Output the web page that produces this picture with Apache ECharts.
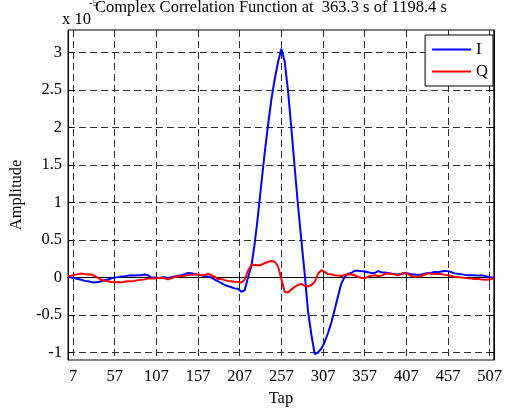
<!DOCTYPE html>
<html>
<head>
<meta charset="utf-8">
<title>Complex Correlation Function</title>
<script src="https://cdn.jsdelivr.net/npm/echarts@6/dist/echarts.min.js"></script>
<style>
  html, body { margin: 0; padding: 0; background: #ffffff; }
  #chart { width: 505px; height: 412px; }
</style>
</head>
<body>
<div id="chart"></div>
<script>
// Tap indices of the sampled correlation (1 .. 512)
const taps = [
  1, 5, 9, 13, 17, 21, 25, 29, 33, 37, 41, 45, 49, 53, 57, 61, 65, 69, 73, 77,
  81, 85, 89, 93, 97, 101, 105, 109, 113, 117, 121, 125, 129, 133, 137, 141, 145, 149, 153, 157,
  161, 165, 169, 173, 177, 181, 185, 189, 193, 197, 201, 205, 209, 213, 217, 221, 225, 229, 233, 237,
  241, 245, 249, 253, 257, 261, 265, 269, 273, 277, 281, 285, 289, 293, 297, 301, 305, 309, 313, 317,
  321, 325, 329, 333, 337, 341, 345, 349, 353, 357, 361, 365, 369, 373, 377, 381, 385, 389, 393, 397,
  401, 405, 409, 413, 417, 421, 425, 429, 433, 437, 441, 445, 449, 453, 457, 461, 465, 469, 473, 477,
  481, 485, 489, 493, 497, 501, 505, 509, 512
];

// In-phase component, in units of 1e-5
const iValues = [
  0.01, 0.0, -0.01, -0.02, -0.03, -0.045, -0.05, -0.06, -0.067, -0.06, -0.05, -0.035, -0.027, -0.01, 0.0, 0.005, 0.015, 0.017, 0.025, 0.03,
  0.028, 0.03, 0.03, 0.04, 0.03, 0.0, 0.0, -0.005, 0.0, 0.005, -0.005, 0.005, 0.015, 0.025, 0.03, 0.045, 0.06, 0.058, 0.045, 0.035,
  0.03, 0.02, 0.01, 0.0, -0.027, -0.05, -0.075, -0.1, -0.115, -0.13, -0.145, -0.15, -0.19, -0.17, 0.0, 0.15, 0.45, 0.83, 1.25, 1.66,
  2.03, 2.37, 2.64, 2.87, 3.05, 2.88, 2.49, 1.99, 1.47, 0.96, 0.5, 0.05, -0.45, -0.76, -1.02, -1.0, -0.95, -0.86, -0.74, -0.6,
  -0.43, -0.25, -0.08, 0.01, 0.05, 0.06, 0.09, 0.09, 0.085, 0.08, 0.07, 0.06, 0.06, 0.085, 0.07, 0.066, 0.06, 0.05, 0.045, 0.04,
  0.05, 0.06, 0.055, 0.045, 0.04, 0.035, 0.04, 0.05, 0.06, 0.065, 0.075, 0.07, 0.08, 0.088, 0.085, 0.07, 0.055, 0.05, 0.045, 0.035,
  0.03, 0.03, 0.03, 0.025, 0.03, 0.02, 0.01, 0.0, 0.0
];

// Quadrature component, in units of 1e-5
const qValues = [
  0.017, 0.025, 0.035, 0.045, 0.053, 0.045, 0.04, 0.04, 0.02, -0.005, -0.03, -0.045, -0.05, -0.06, -0.062, -0.06, -0.065, -0.058, -0.05, -0.05,
  -0.045, -0.035, -0.03, -0.025, -0.015, -0.013, -0.012, -0.005, -0.005, -0.01, -0.025, -0.01, 0.005, 0.017, 0.02, 0.025, 0.03, 0.035, 0.044, 0.04,
  0.035, 0.035, 0.05, 0.03, 0.01, -0.02, -0.02, -0.035, -0.045, -0.05, -0.058, -0.06, -0.067, -0.03, 0.09, 0.165, 0.17, 0.16, 0.17, 0.19,
  0.21, 0.22, 0.21, 0.15, -0.02, -0.19, -0.2, -0.16, -0.125, -0.1, -0.085, -0.11, -0.12, -0.1, -0.06, 0.05, 0.097, 0.075, 0.045, 0.04,
  0.03, 0.025, 0.02, 0.035, 0.044, 0.04, 0.03, 0.01, -0.005, -0.013, 0.01, 0.025, 0.03, 0.02, 0.025, 0.045, 0.053, 0.05, 0.04, 0.03,
  0.045, 0.06, 0.045, 0.02, 0.01, 0.015, 0.02, 0.04, 0.055, 0.05, 0.045, 0.05, 0.045, 0.035, 0.03, 0.02, 0.01, 0.005, 0.0, -0.005,
  -0.01, -0.013, -0.02, -0.02, -0.025, -0.03, -0.027, -0.02, -0.01
];

// Tick positions
const xTicks = [7, 57, 107, 157, 207, 257, 307, 357, 407, 457, 507];
const yTicks = [-1, -0.5, 0, 0.5, 1, 1.5, 2, 2.5, 3];

const titleText = 'Complex Correlation Function at  363.3 s of 1198.4 s';
const FONT = '"Liberation Serif", "Times New Roman", serif';
const FS = 16.5;

const chart = echarts.init(document.getElementById('chart'), null, { renderer: 'canvas' });

const dashed = { show: true, lineStyle: { color: '#2e2e2e', width: 1, type: [7, 4] } };
const tickStyle = { show: true, inside: true, length: 5, lineStyle: { color: '#000', width: 1 } };

const option = {
  animation: false,
  backgroundColor: '#ffffff',
  title: {
    text: titleText,
    left: 95,
    top: -1,
    padding: 0,
    textStyle: { fontFamily: FONT, fontSize: FS, fontWeight: 'normal', color: '#000' }
  },
  grid: {
    left: 63, top: 30, width: 435, height: 330,
    show: true, borderColor: '#000', borderWidth: 1, backgroundColor: '#fff',
    containLabel: false
  },
  legend: {
    orient: 'vertical',
    right: 12, top: 35,
    backgroundColor: '#fff',
    borderColor: '#000', borderWidth: 1,
    padding: [6, 5, 6, 7],
    itemWidth: 39, itemHeight: 2, itemGap: 5,
    icon: 'rect',
    textStyle: { fontFamily: FONT, fontSize: FS, color: '#000' },
    data: ['I', 'Q']
  },
  xAxis: [
    {
      type: 'value', min: 1, max: 512, position: 'bottom',
      name: 'Tap', nameLocation: 'middle', nameGap: 30,
      nameTextStyle: { fontFamily: FONT, fontSize: FS, color: '#000' },
      axisLine: { show: true, lineStyle: { color: '#000' } },
      axisTick: Object.assign({ customValues: xTicks }, tickStyle),
      axisLabel: { customValues: xTicks, fontFamily: FONT, fontSize: FS, color: '#000', margin: 8 },
      splitLine: dashed
    },
    {
      type: 'value', min: 1, max: 512, position: 'top',
      axisLine: { show: true, lineStyle: { color: '#000' } },
      axisTick: Object.assign({ customValues: xTicks }, tickStyle),
      axisLabel: { show: false, customValues: xTicks },
      splitLine: { show: false }
    }
  ],
  yAxis: [
    {
      type: 'value', min: -1.1, max: 3.3, position: 'left',
      name: 'Amplitude', nameLocation: 'middle', nameGap: 40,
      nameTextStyle: { fontFamily: FONT, fontSize: FS, color: '#000' },
      axisLine: { show: true, lineStyle: { color: '#000' } },
      axisTick: Object.assign({ customValues: yTicks }, tickStyle),
      axisLabel: { customValues: yTicks, fontFamily: FONT, fontSize: FS, color: '#000', margin: 6,
                   formatter: v => String(v) },
      splitLine: dashed
    },
    {
      type: 'value', min: -1.1, max: 3.3, position: 'right',
      axisLine: { show: true, lineStyle: { color: '#000' } },
      axisTick: Object.assign({ customValues: yTicks }, tickStyle),
      axisLabel: { show: false, customValues: yTicks },
      splitLine: { show: false }
    }
  ],
  graphic: [
    { type: 'text', left: 62, top: 11,
      style: { text: 'x 10', font: FS + 'px ' + FONT, fill: '#000' } },
    { type: 'text', left: 89, top: -2,
      style: { text: '-5', font: '11px ' + FONT, fill: '#000' } }
  ],
  series: [
    {
      name: 'I', type: 'line', xAxisIndex: 0, yAxisIndex: 0,
      showSymbol: false, symbol: 'none',
      lineStyle: { color: '#0000ff', width: 2 },
      itemStyle: { color: '#0000ff' },
      data: taps.map((t, k) => [t, iValues[k]]),
      z: 3
    },
    {
      name: 'Q', type: 'line', xAxisIndex: 0, yAxisIndex: 0,
      showSymbol: false, symbol: 'none',
      lineStyle: { color: '#ff0000', width: 2 },
      itemStyle: { color: '#ff0000' },
      data: taps.map((t, k) => [t, qValues[k]]),
      z: 4
    }
  ]
};

chart.setOption(option);
</script>
</body>
</html>
